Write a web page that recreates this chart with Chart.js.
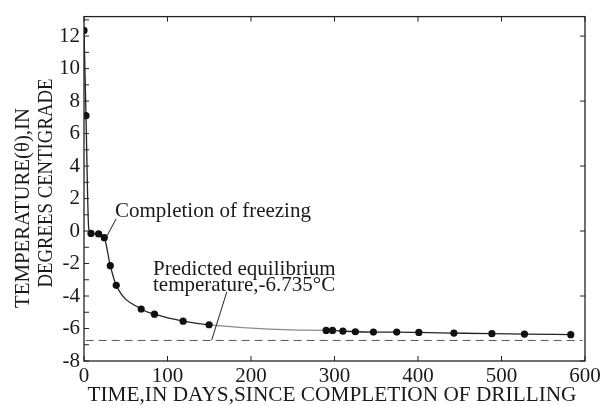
<!DOCTYPE html>
<html>
<head>
<meta charset="utf-8">
<script src="https://cdn.jsdelivr.net/npm/chart.js@4.4.1/dist/chart.umd.min.js"></script>
<style>
  html, body { margin: 0; padding: 0; background: #fff; }
  #wrap { width: 605px; height: 406px; position: relative; }
</style>
</head>
<body>
<div id="wrap"><canvas id="chart"></canvas></div>
<script>
  // Borehole temperature after drilling (days, degrees C)
  var days = [0, 2.4, 5.6, 8.4, 17.5, 24.3, 31.5, 38.6, 68.5, 84.4, 118.7, 149.8,
              290, 297.6, 310, 325, 346.6, 374.5, 401, 443, 488.5, 527.5, 582.9];
  var temps = [12.35, 7.1, 0.2, -0.15, -0.18, -0.41, -2.13, -3.34, -4.8, -5.12, -5.55, -5.77,
               -6.12, -6.12, -6.16, -6.2, -6.22, -6.22, -6.24, -6.28, -6.32, -6.34, -6.38];
  // 1 = measured point (dot), 0 = only a bend of the fitted curve
  var measured = [1, 1, 0, 1, 1, 1, 1, 1, 1, 1, 1, 1,
                  1, 1, 1, 1, 1, 1, 1, 1, 1, 1, 1];

  // predicted equilibrium temperature
  var eqDays = [2, 597];
  var eqTemp = -6.735;

  var xTicks = [0, 100, 200, 300, 400, 500, 600];
  var yTicks = [-8, -6, -4, -2, 0, 2, 4, 6, 8, 10, 12];

  var serif = "'Liberation Serif', 'Times New Roman', serif";
  Chart.defaults.font.family = serif;
  Chart.defaults.color = '#1a1a1a';

  var curvePts = days.map(function (d, i) { return { x: d, y: temps[i] }; });
  var eqPts = eqDays.map(function (d) { return { x: d, y: eqTemp }; });

  /* ── frame + inward tick marks ── */
  var framePlugin = {
    id: 'frame',
    afterDraw: function (chart) {
      var c = chart.ctx, a = chart.chartArea;
      var xs = chart.scales.x, ys = chart.scales.y;
      c.save();
      c.strokeStyle = '#222';
      c.lineWidth = 1.3;
      c.strokeRect(a.left, a.top, a.right - a.left, a.bottom - a.top);
      c.lineWidth = 1;
      c.beginPath();
      for (var v = -8; v <= 13; v++) {
        var py = ys.getPixelForValue(v);
        c.moveTo(a.left, py); c.lineTo(a.left + 5, py);
        if (v % 4 === 0) { c.moveTo(a.right, py); c.lineTo(a.right - 5, py); }
      }
      xTicks.forEach(function (t) {
        var px = xs.getPixelForValue(t);
        c.moveTo(px, a.bottom); c.lineTo(px, a.bottom - 5);
        c.moveTo(px, a.top); c.lineTo(px, a.top + 5);
      });
      c.stroke();
      c.restore();
    }
  };

  function fitText(c, text, x, y, len, font, rot) {
    c.save();
    c.translate(x, y);
    if (rot) c.rotate(-Math.PI / 2);
    c.font = font;
    var w = c.measureText(text).width;
    c.scale(len / w, 1);
    c.textAlign = 'center';
    c.textBaseline = 'alphabetic';
    c.fillText(text, 0, 0);
    c.restore();
  }

  /* ── axis titles and callouts ── */
  var labelPlugin = {
    id: 'labels',
    afterDraw: function (chart) {
      var c = chart.ctx;
      var xs = chart.scales.x, ys = chart.scales.y;
      c.save();
      c.fillStyle = '#1a1a1a';
      fitText(c, 'TEMPERATURE(\u03b8),IN', 29, 208, 200, '20px ' + serif, true);
      fitText(c, 'DEGREES CENTIGRADE', 52, 183, 209, '20px ' + serif, true);
      fitText(c, 'TIME,IN DAYS,SINCE COMPLETION OF DRILLING', 332, 401, 489, '21px ' + serif, false);

      c.font = '21px ' + serif;
      c.textAlign = 'left';
      c.textBaseline = 'alphabetic';
      c.fillText('Completion of freezing', 115, 217);
      c.fillText('Predicted equilibrium', 153, 275);
      c.fillText('temperature,-6.735\u00b0C', 153, 291);

      c.strokeStyle = '#222';
      c.lineWidth = 1;
      c.beginPath();
      c.moveTo(xs.getPixelForValue(27.5), ys.getPixelForValue(-0.3));
      c.lineTo(xs.getPixelForValue(38.5), ys.getPixelForValue(0.75));
      c.moveTo(xs.getPixelForValue(171), ys.getPixelForValue(-3.75));
      c.lineTo(xs.getPixelForValue(153), ys.getPixelForValue(-6.7));
      c.stroke();
      c.restore();
    }
  };

  new Chart(document.getElementById('chart').getContext('2d'), {
    type: 'line',
    data: {
      datasets: [
        {
          data: curvePts,
          borderColor: '#222',
          borderWidth: 1.3,
          cubicInterpolationMode: 'monotone',
          pointRadius: measured.map(function (m) { return m ? 3.6 : 0; }),
          pointBackgroundColor: '#111',
          pointBorderWidth: 0,
          segment: {
            borderColor: function (ctx) {
              return ctx.p0.parsed.x > 140 && ctx.p1.parsed.x < 295 ? '#8a8a8a' : '#222';
            }
          }
        },
        {
          data: eqPts,
          borderColor: '#555',
          borderWidth: 1,
          borderDash: [8, 5],
          pointRadius: 0
        }
      ]
    },
    options: {
      responsive: true,
      maintainAspectRatio: false,
      animation: false,
      layout: { padding: { top: 13, right: 20, left: 0, bottom: 0 } },
      plugins: { legend: { display: false }, tooltip: { enabled: false } },
      scales: {
        x: {
          type: 'linear',
          min: 0,
          max: 600,
          grid: { display: false, drawTicks: false },
          border: { display: false },
          afterBuildTicks: function (s) { s.ticks = xTicks.map(function (v) { return { value: v }; }); },
          afterFit: function (s) { s.height = 45; },
          ticks: { font: { size: 21 }, padding: 3, maxRotation: 0, color: '#1a1a1a' }
        },
        y: {
          type: 'linear',
          min: -8,
          max: 13.2,
          grid: { display: false, drawTicks: false },
          border: { display: false },
          afterBuildTicks: function (s) { s.ticks = yTicks.map(function (v) { return { value: v }; }); },
          afterFit: function (s) { s.width = 84; },
          ticks: { font: { size: 21 }, padding: 4, color: '#1a1a1a' }
        }
      }
    },
    plugins: [framePlugin, labelPlugin]
  });
</script>
</body>
</html>
